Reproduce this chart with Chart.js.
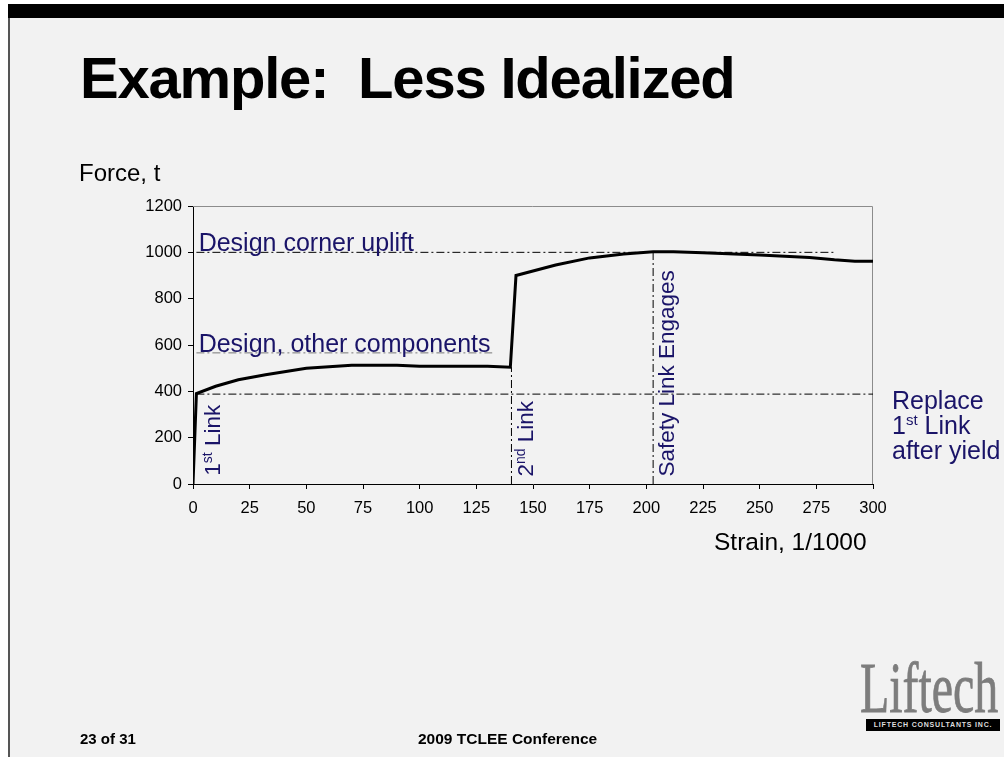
<!DOCTYPE html>
<html>
<head>
<meta charset="utf-8">
<script src="https://cdn.jsdelivr.net/npm/chart.js@4/dist/chart.umd.min.js"></script>
<style>
    html, body { margin: 0; padding: 0; background: #fff; }
    body { width: 1004px; height: 757px; position: relative; overflow: hidden; font-family: "Liberation Sans", Arial, sans-serif; }
    #topbar { position: absolute; left: 8px; top: 4px; width: 996px; height: 14px; background: #000; }
    #slide { position: absolute; left: 8px; top: 18px; width: 996px; height: 739px; background: #f2f2f2; border-left: 2px solid #555; box-sizing: border-box; }
    #chart { position: absolute; left: 0; top: 0; }
    .txt { position: absolute; white-space: nowrap; }
    #title { left: 80px; top: 49px; font-size: 58px; line-height: 58px; font-weight: bold; letter-spacing: -1.2px; color: #000; }
    #ytitle { left: 79px; top: 161px; font-size: 24px; line-height: 24px; color: #000; }
    #xtitle { left: 714px; top: 530px; font-size: 24.5px; line-height: 24.5px; color: #000; }
    #replace { left: 892px; top: 388px; font-size: 25px; line-height: 25px; color: #1a1468; }
    #replace sup { font-size: 15px; vertical-align: 9px; line-height: 0; }
    #page { left: 80px; top: 731px; font-size: 15px; line-height: 16px; font-weight: bold; }
    #conf { left: 418px; top: 731px; font-size: 15.5px; line-height: 16px; font-weight: bold; }
    #logo { left: 860px; top: 652px; font-family: "Liberation Serif", "Times New Roman", serif; font-size: 72px; line-height: 72px; color: #7d7d7d; transform: scaleX(0.665); transform-origin: left top; -webkit-text-stroke: 0.8px #7d7d7d; }
    #logobar { position: absolute; left: 866px; top: 719px; width: 134px; height: 12px; background: #000; color: #ddd; font-size: 7px; line-height: 12px; font-weight: bold; text-align: center; letter-spacing: 0.8px; }
</style>
</head>
<body>
<div id="topbar"></div>
<div id="slide"></div>
<canvas id="chart" width="1004" height="757"></canvas>
<div class="txt" id="title">Example:&nbsp; Less Idealized</div>
<div class="txt" id="ytitle">Force, t</div>
<div class="txt" id="xtitle">Strain, 1/1000</div>
<div class="txt" id="replace">Replace<br>1<sup>st</sup> Link<br>after yield</div>
<div class="txt" id="page">23 of 31</div>
<div class="txt" id="conf">2009 TCLEE Conference</div>
<div class="txt" id="logo">Liftech</div>
<div id="logobar">LIFTECH CONSULTANTS INC.</div>

<script>
// Force vs strain curve
const strain = [0, 1.5, 10, 20, 32, 50, 70, 90, 100, 130, 140, 142.5, 160, 175, 190, 203, 212, 225, 250, 272, 283, 292, 300];
const force = [0, 390, 422, 450, 472, 500, 513, 513, 508, 508, 504, 900, 945, 976, 993, 1002, 1003, 998, 988, 978, 968, 962, 961];

// Reference lines (start / end points)
const upliftX = [1.5, 283];
const upliftY = [1000, 1000];
const otherX = [1.5, 132];
const otherY = [566, 566];
const replaceX = [1.5, 300];
const replaceY = [388, 388];
const link2X = [140.5, 140.5];
const link2Y = [0, 504];
const safetyX = [203, 203];
const safetyY = [0, 1000];

// Axis ticks
const xTicks = [0, 25, 50, 75, 100, 125, 150, 175, 200, 225, 250, 275, 300];
const yTicks = [0, 200, 400, 600, 800, 1000, 1200];

const FONT = '"Liberation Sans", Arial, sans-serif';
const NAVY = '#1a1468';
const dashDot = [8, 3, 2, 3];

function toPoints(xs, ys) {
    return xs.map((x, i) => ({ x: x, y: ys[i] }));
}

function refLine(xs, ys, color) {
    return {
        data: toPoints(xs, ys),
        borderColor: color,
        borderWidth: 1,
        borderDash: dashDot,
        pointRadius: 0,
        showLine: true
    };
}

/**
 * Draw text rotated -90deg, made of parts with optional superscript
 */
function drawUp(ctx, x, y, parts) {
    ctx.save();
    ctx.translate(x, y);
    ctx.rotate(-Math.PI / 2);
    ctx.textBaseline = 'alphabetic';
    ctx.textAlign = 'left';
    let cx = 0;
    parts.forEach(p => {
        ctx.font = p.size + 'px ' + FONT;
        ctx.fillText(p.text, cx, -(p.raise || 0));
        cx += ctx.measureText(p.text).width;
    });
    ctx.restore();
}

// Frame and annotations
const slidePlugin = {
    id: 'slidePlugin',
    beforeDatasetsDraw(chart) {
        const { ctx, chartArea: a } = chart;
        ctx.save();
        ctx.strokeStyle = '#8c8c8c';
        ctx.lineWidth = 1;
        ctx.beginPath();
        ctx.moveTo(a.left, a.top + 0.5);
        ctx.lineTo(a.right - 0.5, a.top + 0.5);
        ctx.lineTo(a.right - 0.5, a.bottom);
        ctx.stroke();
        ctx.restore();
    },
    afterDatasetsDraw(chart) {
        const { ctx } = chart;
        const xs = chart.scales.x;
        const ys = chart.scales.y;
        ctx.save();
        ctx.fillStyle = NAVY;
        ctx.textBaseline = 'alphabetic';
        ctx.font = '25px ' + FONT;
        ctx.fillText('Design corner uplift', xs.getPixelForValue(2.5), ys.getPixelForValue(1000) - 1.5);
        ctx.fillText('Design, other components', xs.getPixelForValue(2.5), ys.getPixelForValue(566) - 1);

        drawUp(ctx, xs.getPixelForValue(11.8), ys.getPixelForValue(36), [
            { text: '1', size: 22.5 },
            { text: 'st', size: 14, raise: 8 },
            { text: ' Link', size: 22.5 }
        ]);
        drawUp(ctx, xs.getPixelForValue(150.1), ys.getPixelForValue(32), [
            { text: '2', size: 22.5 },
            { text: 'nd', size: 14, raise: 8 },
            { text: ' Link', size: 22.5 }
        ]);
        drawUp(ctx, xs.getPixelForValue(212.4), ys.getPixelForValue(32), [
            { text: 'Safety Link Engages', size: 22.5 }
        ]);
        ctx.restore();
    }
};

new Chart(document.getElementById('chart'), {
    type: 'scatter',
    data: {
        datasets: [
            {
                data: toPoints(strain, force),
                borderColor: '#000',
                borderWidth: 3,
                pointRadius: 0,
                showLine: true
            },
            refLine(upliftX, upliftY, '#000'),
            refLine(otherX, otherY, '#777'),
            refLine(replaceX, replaceY, '#000'),
            refLine(link2X, link2Y, '#000'),
            refLine(safetyX, safetyY, '#000')
        ]
    },
    options: {
        responsive: false,
        devicePixelRatio: 1,
        animation: false,
        layout: { padding: { left: 0, top: 206, right: 131, bottom: 233 } },
        plugins: {
            legend: { display: false },
            tooltip: { enabled: false }
        },
        scales: {
            x: {
                type: 'linear',
                min: 0,
                max: 300,
                afterBuildTicks: (s) => { s.ticks = xTicks.map(v => ({ value: v })); },
                afterFit: (s) => { s.height = 40; },
                ticks: { color: '#000', font: { family: FONT, size: 16.5 }, padding: 10, maxRotation: 0, autoSkip: false, callback: (v) => String(v) },
                grid: { display: true, drawOnChartArea: false, drawTicks: true, tickLength: 5, color: '#000' },
                border: { display: true, color: '#000', width: 1 }
            },
            y: {
                type: 'linear',
                min: 0,
                max: 1200,
                afterBuildTicks: (s) => { s.ticks = yTicks.map(v => ({ value: v })); },
                afterFit: (s) => { s.width = 193; },
                ticks: { color: '#000', font: { family: FONT, size: 16.5 }, padding: 6, autoSkip: false, callback: (v) => String(v) },
                grid: { display: true, drawOnChartArea: false, drawTicks: true, tickLength: 5, color: '#000' },
                border: { display: true, color: '#000', width: 1 }
            }
        }
    },
    plugins: [slidePlugin]
});
</script>
</body>
</html>
